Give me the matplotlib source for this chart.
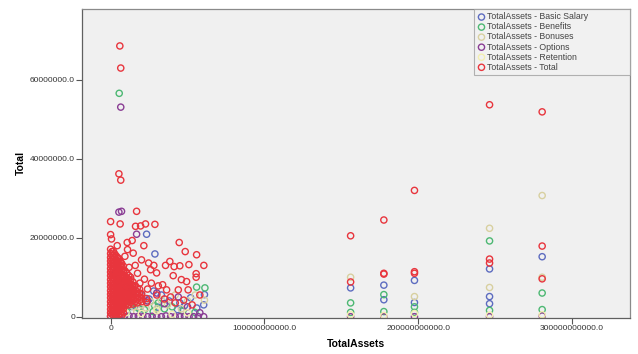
import numpy as np
import matplotlib
matplotlib.use("Agg")
import matplotlib.pyplot as plt

plt.rcParams['font.family'] = ['Liberation Sans', 'DejaVu Sans']

# TotalAssets in billions, pay components in millions: (assets, value)
basic_salary = [
    (23.4, 20.9), (28.8, 15.9), (3.0, 11.0), (5.0, 9.0), (10.0, 7.5), (15.0, 6.5),
    (20.0, 5.5), (25.0, 4.5), (28.0, 6.5), (33.0, 5.5), (38.0, 4.0), (45.0, 3.5),
    (52.0, 4.8), (61.0, 5.6), (60.5, 3.0), (43.5, 1.8), (56.0, 2.2), (48.0, 2.8),
    (31.0, 2.4), (19.0, 1.9), (13.5, 2.6),
    (156.0, 7.3), (177.6, 8.0), (177.6, 4.3), (197.5, 9.2), (197.5, 3.6),
    (246.3, 12.1), (246.3, 5.1), (246.3, 3.3), (280.5, 15.2),
]
benefits = [
    (5.6, 56.6), (28.6, 2.8), (27.7, 1.3), (55.9, 7.5), (54.8, 1.1), (61.3, 7.3),
    (22.0, 1.8), (35.0, 2.0), (40.0, 2.5), (47.0, 1.5), (18.0, 2.2), (13.0, 3.0),
    (31.0, 3.5), (10.5, 1.2),
    (156.0, 3.5), (156.0, 1.1), (177.6, 5.6), (177.6, 1.3), (197.5, 2.5),
    (197.5, 1.1), (246.3, 19.2), (246.3, 1.6), (280.5, 6.0), (280.5, 1.8),
]
bonuses = [
    (20.0, 3.0), (23.0, 2.2), (26.0, 3.8), (30.0, 2.0), (33.0, 4.2), (37.0, 3.0),
    (42.0, 5.5), (46.0, 2.0), (50.0, 4.0), (55.0, 5.5), (61.0, 4.2), (15.0, 2.5),
    (11.0, 3.5), (17.0, 1.2),
    (156.0, 10.0), (197.5, 5.1), (246.3, 22.4), (246.3, 7.4), (280.5, 30.7),
    (280.5, 10.0),
]
options = [
    (6.6, 53.1), (5.4, 26.5), (7.1, 26.7), (16.9, 20.9), (24.0, 4.0), (30.0, 6.0),
    (35.0, 3.3), (44.0, 5.0), (50.0, 2.5), (58.0, 1.0),
    (0.0, 0.1), (3.0, 0.1), (6.0, 0.0), (9.0, 0.0), (12.0, 0.2), (15.0, 0.0),
    (18.0, 0.1), (21.0, 0.0), (24.0, 0.0), (27.0, 0.1), (30.0, 0.0), (33.0, 0.0),
    (36.0, 0.2), (39.0, 0.0), (42.0, 0.0), (45.0, 0.0), (48.0, 0.1), (51.0, 0.0),
    (54.0, 0.0), (57.0, 0.0), (60.5, 0.0),
    (156.0, 0.0), (177.6, 0.0), (197.5, 0.0), (246.3, 0.0), (280.5, 0.2),
]
retention = [
    (10.0, 1.0), (20.0, 0.8), (30.0, 1.5), (40.0, 0.6), (50.0, 1.0),
    (156.0, 0.5), (177.6, 0.3), (197.5, 0.8), (246.3, 0.4), (280.5, 0.5),
]
total = [
    # small companies, dense block
    (0.0, 0.1), (0.0, 1.0), (0.0, 1.9), (0.0, 2.9), (0.0, 3.8), (0.0, 4.8),
    (0.0, 5.7), (0.0, 6.6), (0.0, 7.6), (0.0, 8.5), (0.0, 9.4), (0.0, 10.4),
    (0.0, 11.3), (0.0, 12.2), (0.0, 13.2), (0.0, 14.1), (0.0, 15.0), (0.0, 16.0),
    (0.0, 17.1),
    (0.9, 0.6), (0.9, 1.5), (0.9, 2.4), (0.9, 3.4), (0.9, 4.3), (0.9, 5.2),
    (0.9, 6.1), (0.9, 7.1), (0.9, 8.0), (0.9, 8.9), (0.9, 9.9), (0.9, 10.8),
    (0.9, 11.7), (0.9, 12.7), (0.9, 13.6), (0.9, 14.5), (0.9, 15.5), (0.9, 16.5),
    (1.8, 0.4), (1.8, 1.4), (1.8, 2.4), (1.8, 3.3), (1.8, 4.3), (1.8, 5.2),
    (1.8, 6.2), (1.8, 7.1), (1.8, 8.0), (1.8, 9.0), (1.8, 9.9), (1.8, 10.8),
    (1.8, 11.8), (1.8, 12.7), (1.8, 13.6), (1.8, 14.6), (1.8, 15.6), (1.8, 16.6),
    (2.7, 0.7), (2.7, 1.7), (2.7, 2.6), (2.7, 3.6), (2.7, 4.5), (2.7, 5.5),
    (2.7, 6.4), (2.7, 7.4), (2.7, 8.3), (2.7, 9.3), (2.7, 10.2), (2.7, 11.1),
    (2.7, 12.1), (2.7, 13.0), (2.7, 14.0), (2.7, 15.0), (2.7, 15.9),
    (3.6, 0.2), (3.6, 1.2), (3.6, 2.1), (3.6, 3.1), (3.6, 4.0), (3.6, 5.0),
    (3.6, 5.9), (3.6, 6.9), (3.6, 7.8), (3.6, 8.7), (3.6, 9.7), (3.6, 10.6),
    (3.6, 11.5), (3.6, 12.5), (3.6, 13.4), (3.6, 14.4), (3.6, 15.4),
    (4.5, 0.9), (4.5, 1.9), (4.5, 2.8), (4.5, 3.8), (4.5, 4.7), (4.5, 5.6),
    (4.5, 6.6), (4.5, 7.5), (4.5, 8.5), (4.5, 9.4), (4.5, 10.3), (4.5, 11.3),
    (4.5, 12.2), (4.5, 13.1), (4.5, 14.1), (4.5, 15.0),
    (5.4, 0.5), (5.4, 1.5), (5.4, 2.5), (5.4, 3.4), (5.4, 4.4), (5.4, 5.3),
    (5.4, 6.3), (5.4, 7.2), (5.4, 8.1), (5.4, 9.1), (5.4, 10.0), (5.4, 11.0),
    (5.4, 11.9), (5.4, 12.9), (5.4, 13.8), (5.4, 14.7),
    (6.3, 0.8), (6.3, 1.8), (6.3, 2.7), (6.3, 3.6), (6.3, 4.6), (6.3, 5.5),
    (6.3, 6.5), (6.3, 7.4), (6.3, 8.4), (6.3, 9.3), (6.3, 10.3), (6.3, 11.2),
    (6.3, 12.1), (6.3, 13.0), (6.3, 14.0),
    (7.2, 0.3), (7.2, 1.3), (7.2, 2.2), (7.2, 3.2), (7.2, 4.1), (7.2, 5.1),
    (7.2, 6.0), (7.2, 7.0), (7.2, 7.9), (7.2, 8.9), (7.2, 9.8), (7.2, 10.7),
    (7.2, 11.7), (7.2, 12.6), (7.2, 13.5),
    (8.3, 1.0), (8.3, 2.0), (8.3, 3.0), (8.3, 4.0), (8.3, 5.0), (8.3, 5.9),
    (8.3, 6.9), (8.3, 7.8), (8.3, 8.7), (8.3, 9.7), (8.3, 10.6), (8.3, 11.5),
    (8.3, 12.8),
    (9.4, 2.8), (9.4, 3.7), (9.4, 4.6), (9.4, 5.5), (9.4, 6.4), (9.4, 7.3),
    (9.4, 8.3), (9.4, 9.2), (9.4, 10.2), (9.4, 11.6),
    (10.6, 3.3), (10.6, 4.2), (10.6, 5.1), (10.6, 6.1), (10.6, 7.0), (10.6, 7.9),
    (10.6, 8.9), (10.6, 9.8), (10.6, 11.0),
    (11.8, 3.0), (11.8, 3.9), (11.8, 4.8), (11.8, 5.7), (11.8, 6.6), (11.8, 7.5),
    (11.8, 8.4), (11.8, 9.3), (11.8, 10.4),
    (13.1, 3.6), (13.1, 4.5), (13.1, 5.5), (13.1, 6.4), (13.1, 7.3), (13.1, 8.2),
    (13.1, 9.4),
    (14.5, 3.2), (14.5, 4.2), (14.5, 5.1), (14.5, 6.0), (14.5, 6.9), (14.5, 7.8),
    (14.5, 8.8),
    (16.0, 3.8), (16.0, 4.8), (16.0, 5.8), (16.0, 6.8), (16.0, 7.9),
    (17.3, 3.5), (17.3, 4.5), (17.3, 5.4), (17.3, 6.3), (17.3, 7.3),
    (18.8, 4.1), (18.8, 5.1), (18.8, 6.0), (18.8, 7.0),
    (20.2, 3.8), (20.2, 4.8), (20.2, 5.8), (23.4, 3.6), (23.4, 4.6),
    # scattered above the block
    (6.0, 68.6), (6.6, 63.0), (5.4, 36.2), (6.6, 34.6), (16.9, 26.7), (0.0, 24.1),
    (6.2, 23.5), (16.2, 22.9), (19.5, 23.0), (22.7, 23.5), (28.8, 23.4),
    (0.0, 20.8), (0.6, 19.7), (10.8, 18.8), (14.0, 19.3), (21.6, 18.0),
    (44.6, 18.8), (4.3, 18.0), (48.5, 16.5), (55.9, 15.7), (60.6, 13.0),
    (38.5, 14.0), (41.3, 12.7), (35.7, 13.0), (45.0, 12.9), (50.9, 13.2),
    (28.1, 13.0), (24.7, 13.6), (20.1, 14.4), (14.7, 16.1), (9.3, 15.3),
    (55.6, 10.9), (55.6, 10.0), (49.4, 8.9), (46.0, 9.4), (40.7, 10.4),
    (33.8, 8.1), (36.4, 6.8), (50.4, 6.8), (44.0, 6.8), (29.9, 11.1), (26.0, 11.9),
    (12.0, 12.5), (17.5, 11.0), (22.0, 9.5), (26.5, 8.5), (31.0, 7.8), (19.0, 8.5),
    (24.0, 7.0), (30.0, 5.5), (35.0, 4.5), (39.0, 5.0), (42.0, 3.5), (47.5, 4.2),
    (53.0, 3.0), (58.0, 5.5), (13.0, 10.0), (16.0, 13.0), (11.0, 17.0),
    # large companies
    (156.0, 20.5), (156.0, 8.8), (177.6, 24.5), (177.6, 10.8), (177.6, 11.0),
    (197.5, 32.0), (197.5, 11.4), (197.5, 11.0), (246.3, 53.7), (246.3, 14.6),
    (246.3, 13.6), (280.5, 51.9), (280.5, 17.9), (280.5, 9.6),
]

series_names = ['TotalAssets - Basic Salary', 'TotalAssets - Benefits',
                'TotalAssets - Bonuses', 'TotalAssets - Options',
                'TotalAssets - Retention', 'TotalAssets - Total']
series_data = [basic_salary, benefits, bonuses, options, retention, total]
series_colors = ['#5d6cc0', '#4db873', '#d8d0a0', '#8a3d94', '#f3eeb0', '#e8353d']

x_ticks = [0, 100000000000, 200000000000, 300000000000]
x_tick_labels = ['0', '100000000000.0', '200000000000.0', '300000000000.0']
y_ticks = [0, 20000000, 40000000, 60000000]
y_tick_labels = ['0', '20000000.0', '40000000.0', '60000000.0']

fig = plt.figure(figsize=(6.38, 3.54), dpi=100)
ax = fig.add_axes([0.1285, 0.102, 0.8585, 0.873])
ax.set_facecolor('#f0f0f0')

for name, pts, color in zip(series_names, series_data, series_colors):
    arr = np.array(pts)
    ax.scatter(arr[:, 0] * 1e9, arr[:, 1] * 1e6, s=20, facecolors='none',
               edgecolors=color, linewidths=1.0, label=name)

ax.set_xlim(-18.6e9, 337.4e9)
ax.set_ylim(-0.3e6, 78e6)
ax.set_xticks(x_ticks)
ax.set_xticklabels(x_tick_labels)
ax.set_yticks(y_ticks)
ax.set_yticklabels(y_tick_labels)
ax.tick_params(labelsize=6, colors='#555555', length=4, width=0.8, pad=1.0)
ax.tick_params(axis='both', labelcolor='#333333')

for side, spine in ax.spines.items():
    spine.set_color('#8a8a8a' if side in ('top', 'right') else '#606060')
    spine.set_linewidth(0.9)

ax.set_xlabel('TotalAssets', fontsize=7.5, fontweight='bold', labelpad=5)
ax.set_ylabel('Total', fontsize=7.5, fontweight='bold', labelpad=3)

leg = ax.legend(loc='upper left', bbox_to_anchor=(0.715, 0.796, 0.285, 0.204),
                mode='expand', fontsize=6.3, frameon=True, fancybox=False,
                labelspacing=0.12, handletextpad=0.1, handlelength=1.0,
                borderpad=0.4, borderaxespad=0, scatterpoints=1)
leg.get_frame().set_facecolor('#f2f2f2')
leg.get_frame().set_edgecolor('#a0a0a0')
leg.get_frame().set_linewidth(0.8)
for t in leg.get_texts():
    t.set_color('#444444')

fig.savefig('out.png', dpi=100)
